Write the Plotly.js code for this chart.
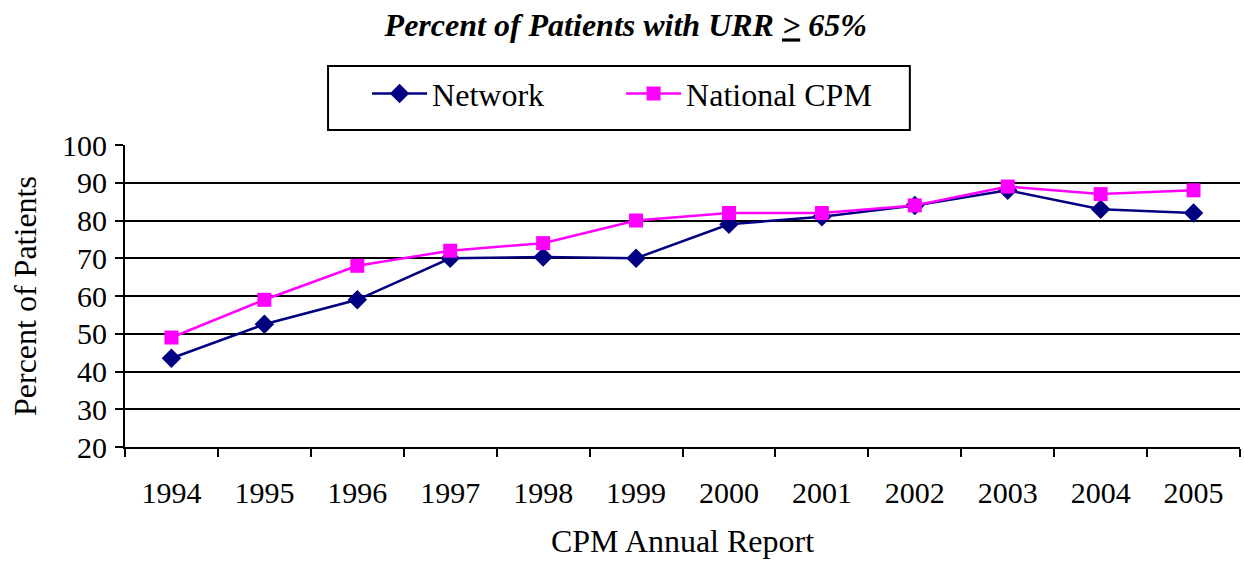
<!DOCTYPE html>
<html><head><meta charset="utf-8">
<script src="https://cdn.plot.ly/plotly-3.0.1.min.js"></script>
<style>body{margin:0;background:#fff}#chart{width:1244px;height:561px}</style>
</head><body><div id="chart"></div>
<script>
const years = ['1994','1995','1996','1997','1998','1999','2000','2001','2002','2003','2004','2005'];
const network = [43.5, 52.5, 59, 70, 70.3, 70, 79, 81, 84, 88, 83, 82];
const nationalCPM = [49, 59, 68, 72, 74, 80, 82, 82, 84, 89, 87, 88];
const yTicks = [20,30,40,50,60,70,80,90,100];

const fam = '"Liberation Serif", "Times New Roman", serif';
const traces = [
  {x: years, y: network, name: 'Network', type: 'scatter', mode: 'lines+markers',
   line: {color: '#000080', width: 2.5}, marker: {symbol: 'diamond', size: 15, color: '#000080'}},
  {x: years, y: nationalCPM, name: 'National CPM', type: 'scatter', mode: 'lines+markers',
   line: {color: '#FF00FF', width: 2.5}, marker: {symbol: 'square', size: 14, color: '#FF00FF'}}
];
const layout = {
  width: 1244, height: 561,
  margin: {l: 125, r: 4, t: 145, b: 114},
  paper_bgcolor: '#fff', plot_bgcolor: '#fff',
  font: {family: fam, color: '#000', size: 30},
  showlegend: true,
  title: {text: '<b><i>Percent of Patients with URR <u>&gt;</u> 65%</i></b>', x: 0.503, xanchor: 'center', y: 0.955, yanchor: 'middle',
    font: {family: fam, size: 32, color: '#000'}},
  legend: {orientation: 'h', x: 0.2171, xanchor: 'left', y: 1.17, yanchor: 'middle',
    borderwidth: 0, bgcolor: 'rgba(0,0,0,0)', font: {family: fam, size: 32, color: '#000'},
    entrywidth: 184, itemwidth: 55},
  shapes: [{type: 'rect', xref: 'paper', yref: 'paper', x0: 0.1821, x1: 0.7039, y0: 1.0497, y1: 1.2616,
    line: {color: '#000', width: 2}, fillcolor: 'rgba(0,0,0,0)', layer: 'below'}],
  annotations: [{text: 'Percent of Patients', xref: 'paper', yref: 'paper', x: -0.0897, y: 0.5,
    xanchor: 'center', yanchor: 'middle', textangle: -90, showarrow: false, font: {family: fam, size: 32, color: '#000'}}],
  xaxis: {type: 'category', categoryorder: 'array', categoryarray: years,
    tickson: 'boundaries', ticks: 'outside', ticklen: 8, tickwidth: 2, tickcolor: '#000',
    showline: true, linecolor: '#000', linewidth: 2, showgrid: false, zeroline: false,
    range: [-0.5, 11.5], tickfont: {size: 30}, ticklabelstandoff: 18,
    title: {text: 'CPM Annual Report', font: {size: 32}, standoff: 22}},
  yaxis: {range: [20, 100], tickvals: yTicks, ticktext: yTicks.map(String),
    ticks: 'outside', ticklen: 8, tickwidth: 2, tickcolor: '#000',
    showline: true, linecolor: '#000', linewidth: 2,
    showgrid: true, gridcolor: '#000', gridwidth: 2, zeroline: false,
    tickfont: {size: 30}, ticklabelstandoff: 2}
};
Plotly.newPlot('chart', traces, layout, {displayModeBar: false, staticPlot: true});
</script></body></html>
